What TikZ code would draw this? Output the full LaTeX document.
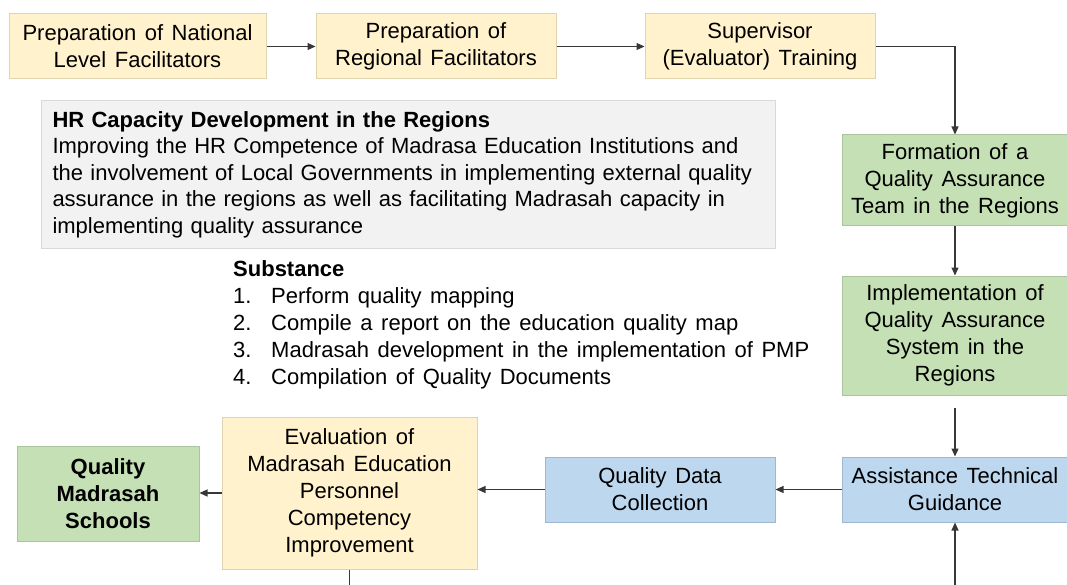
\documentclass[tikz,border=0pt]{standalone}
\usepackage{fontspec}
\setmainfont{Liberation Sans}[WordSpace=1.4]
\usepackage{xcolor}
\usepackage{tikz}
\usetikzlibrary{arrows.meta}

\definecolor{yelfill}{RGB}{255,242,204}
\definecolor{yeldraw}{RGB}{222,212,175}
\definecolor{grnfill}{RGB}{197,224,180}
\definecolor{grndraw}{RGB}{170,196,158}
\definecolor{blufill}{RGB}{189,215,238}
\definecolor{bludraw}{RGB}{160,184,206}
\definecolor{greyfill}{RGB}{242,242,242}
\definecolor{greydraw}{RGB}{217,217,217}
\definecolor{arrowgrey}{RGB}{55,55,55}

\begin{document}
\begin{tikzpicture}[x=1pt,y=-1pt,
	box/.style={draw,line width=1pt,align=center,inner sep=0pt,font=\fontsize{22}{27}\selectfont},
	yel/.style={box,fill=yelfill,draw=yeldraw},
	grn/.style={box,fill=grnfill,draw=grndraw},
	blu/.style={box,fill=blufill,draw=bludraw},
	flow/.style={draw=arrowgrey,line width=1.1pt,-{Triangle[length=8pt,width=7pt]}}]
	\useasboundingbox (0,0) rectangle (1067,585);
	% top row
	\node[yel,minimum width=257pt,minimum height=65pt] (nat) at (137.5,46.5) {Preparation of National\\Level Facilitators};
	\node[yel,minimum width=240pt,minimum height=65pt] (reg) at (436,46.5) {Preparation of\\Regional Facilitators};
	\node[yel,minimum width=230pt,minimum height=65pt] (sup) at (760,46.5) {Supervisor\\(Evaluator) Training};
	% right column
	\node[grn,minimum width=225pt,minimum height=91pt] (form) at (955,180.5) {Formation of a\\Quality Assurance\\Team in the Regions};
	\node[grn,minimum width=225pt,minimum height=119pt] (impl) at (955,335.5) {Implementation of\\Quality Assurance\\System in the\\Regions};
	\node[blu,minimum width=225pt,minimum height=65pt] (assist) at (955,489.5) {Assistance Technical\\Guidance};
	% bottom row
	\node[blu,minimum width=230pt,minimum height=65pt] (qd) at (660,489.5) {Quality Data\\Collection};
	\node[yel,minimum width=255pt,minimum height=152pt] (eval) at (349.5,493) {Evaluation of\\Madrasah Education\\Personnel\\Competency\\Improvement};
	\node[grn,minimum width=182pt,minimum height=95pt,font=\fontsize{22}{27}\selectfont\bfseries] (qms) at (108,493.5) {Quality\\Madrasah\\Schools};
	% text blocks
	\node[fill=greyfill,draw=greydraw,line width=1pt,minimum width=734pt,minimum height=147pt,text width=712pt,align=left,inner xsep=11pt,inner ysep=0pt,font=\fontsize{22}{26.5}\selectfont] (hr) at (408.5,174.5) {\mbox{\textbf{HR Capacity Development in the Regions}}\\
		\mbox{Improving the HR Competence of Madrasa Education Institutions and}\\
		\mbox{the involvement of Local Governments in implementing external quality}\\
		\mbox{assurance in the regions as well as facilitating Madrasah capacity in}\\
		\mbox{implementing quality assurance}};
	\node[anchor=north west,align=left,inner sep=0pt,font=\fontsize{22}{27}\selectfont] (subst) at (233,260) {\textbf{Substance}\\
		\makebox[38pt][l]{1.}Perform quality mapping\\
		\makebox[38pt][l]{2.}Compile a report on the education quality map\\
		\makebox[38pt][l]{3.}Madrasah development in the implementation of PMP\\
		\makebox[38pt][l]{4.}Compilation of Quality Documents};
	% connectors
	\coordinate (evalout) at (349.5,585);
	\coordinate (assistin) at (955,585);
	\draw[flow] (nat) -- (reg);
	\draw[flow] (reg) -- (sup);
	\draw[flow] (sup.east) -| (form.north);
	\draw[flow] (form) -- (impl);
	\draw[flow,shorten <=12pt] (impl) -- (assist);
	\draw[flow] (assist) -- (qd);
	\draw[flow] (qd.west) -- (eval.east |- qd.west);
	\draw[flow] (eval.west) -- (qms.east |- eval.west);
	\draw[draw=arrowgrey,line width=1.1pt] (eval.south) -- (evalout);
	\draw[flow] (assistin) -- (assist.south);
\end{tikzpicture}
\end{document}
